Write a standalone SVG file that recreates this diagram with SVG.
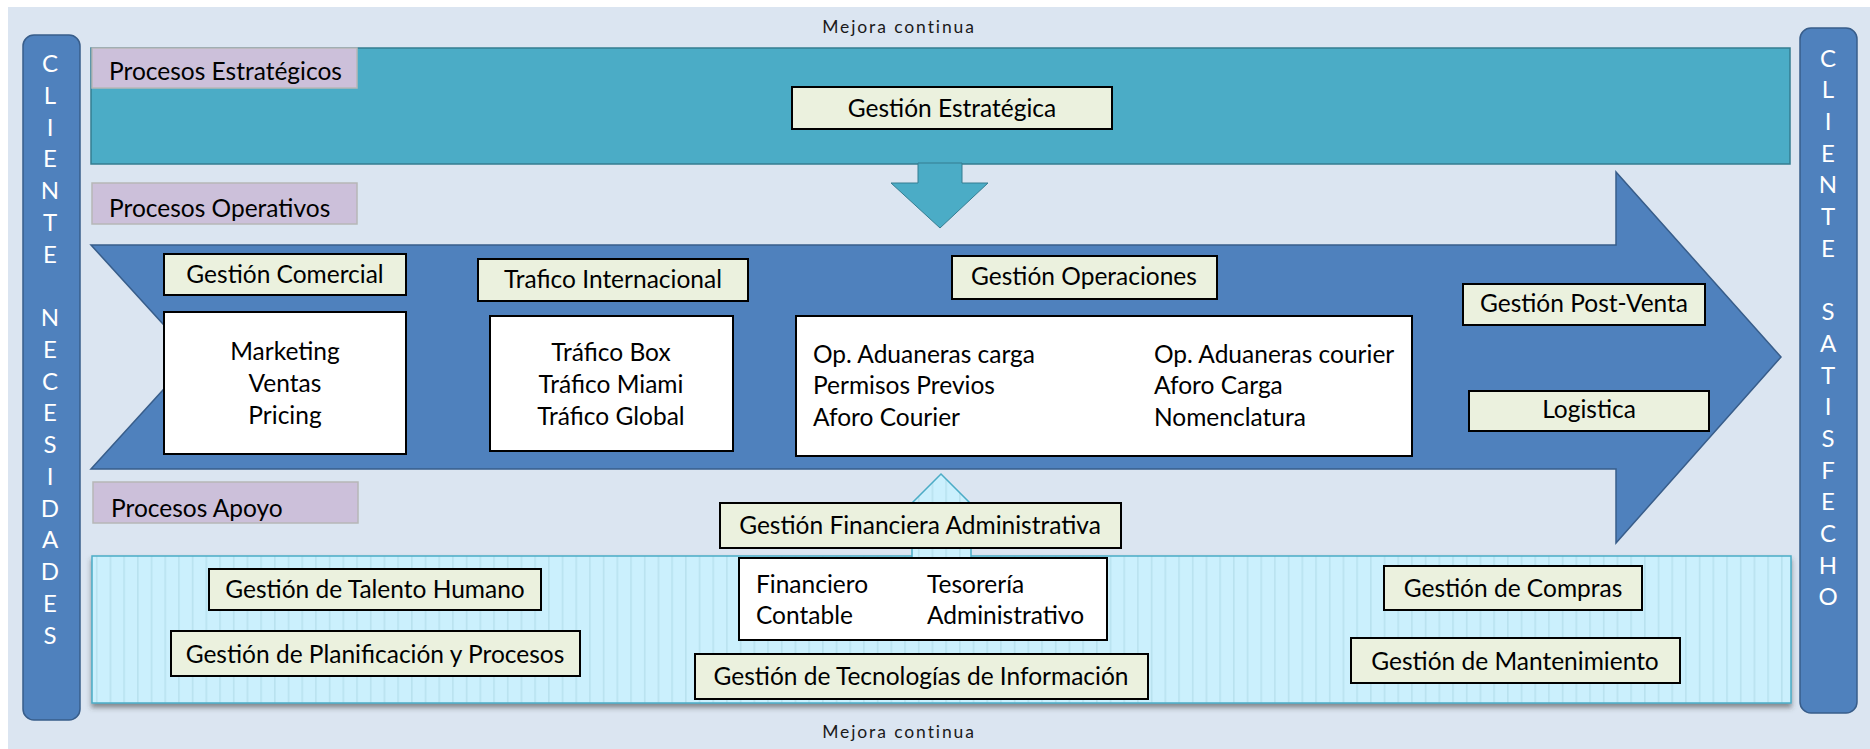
<svg xmlns="http://www.w3.org/2000/svg" width="1870" height="749" viewBox="0 0 1870 749">
<defs>
<pattern id="stripes" width="13.7" height="20" patternUnits="userSpaceOnUse">
<rect width="13.7" height="20" fill="#cbf0fd"/>
<rect x="0" width="1.6" height="20" fill="#b9e2ef"/>
</pattern>
<filter id="shadow" x="-5%" y="-20%" width="110%" height="150%">
<feDropShadow dx="0" dy="4" stdDeviation="2.5" flood-color="#404040" flood-opacity="0.55"/>
</filter>
<style>
text{font-family:Lato,"Liberation Sans",sans-serif;font-size:24.5px;fill:#000}
.side{fill:#4f81bd;stroke:#385d8a;stroke-width:1.5}
.sidetxt{fill:#fff;text-anchor:middle;font-size:24px}
.lbl{fill:#ccc0da;stroke:#b7b7b7;stroke-width:1.5}
.gbox{fill:#ebf1de;stroke:#000;stroke-width:2}
.wbox{fill:#fff;stroke:#000;stroke-width:2}
.c{text-anchor:middle}
.mej{font-size:17.5px;letter-spacing:1.9px;fill:#1a1a1a;text-anchor:middle}
</style>
</defs>
<rect x="8" y="7" width="1862" height="742" fill="#dbe5f1"/>
<text class="mej" x="899" y="33">Mejora continua</text>
<text class="mej" x="899" y="738">Mejora continua</text>

<g id="cliente-necesidades">
<rect class="side" x="23" y="35" width="57" height="685" rx="11"/>
<text class="sidetxt" x="50" y="72"><tspan x="50">C</tspan><tspan x="50" dy="31.75">L</tspan><tspan x="50" dy="31.75">I</tspan><tspan x="50" dy="31.75">E</tspan><tspan x="50" dy="31.75">N</tspan><tspan x="50" dy="31.75">T</tspan><tspan x="50" dy="31.75">E</tspan><tspan x="50" dy="63.5">N</tspan><tspan x="50" dy="31.75">E</tspan><tspan x="50" dy="31.75">C</tspan><tspan x="50" dy="31.75">E</tspan><tspan x="50" dy="31.75">S</tspan><tspan x="50" dy="31.75">I</tspan><tspan x="50" dy="31.75">D</tspan><tspan x="50" dy="31.75">A</tspan><tspan x="50" dy="31.75">D</tspan><tspan x="50" dy="31.75">E</tspan><tspan x="50" dy="31.75">S</tspan></text>
</g>

<g id="cliente-satisfecho">
<rect class="side" x="1800" y="28" width="57" height="685" rx="11"/>
<text class="sidetxt" x="1828" y="66.5"><tspan x="1828">C</tspan><tspan x="1828" dy="31.7">L</tspan><tspan x="1828" dy="31.7">I</tspan><tspan x="1828" dy="31.7">E</tspan><tspan x="1828" dy="31.7">N</tspan><tspan x="1828" dy="31.7">T</tspan><tspan x="1828" dy="31.7">E</tspan><tspan x="1828" dy="63.4">S</tspan><tspan x="1828" dy="31.7">A</tspan><tspan x="1828" dy="31.7">T</tspan><tspan x="1828" dy="31.7">I</tspan><tspan x="1828" dy="31.7">S</tspan><tspan x="1828" dy="31.7">F</tspan><tspan x="1828" dy="31.7">E</tspan><tspan x="1828" dy="31.7">C</tspan><tspan x="1828" dy="31.7">H</tspan><tspan x="1828" dy="31.7">O</tspan></text>
</g>

<g id="procesos-estrategicos">
<rect x="91" y="48" width="1699" height="116" fill="#4bacc6" stroke="#357d91" stroke-width="1.5"/>
<rect class="lbl" x="92" y="48" width="265" height="40"/>
<text x="109" y="80">Procesos Estratégicos</text>
</g>

<g id="connectors">
<polygon points="918,163 962,163 962,183 988,183 940,228 891,183 918,183" fill="#4bacc6" stroke="#357d91" stroke-width="1"/>
<polygon points="91,245 1616,245 1616,172 1781,357 1616,543 1616,469 91,469 193,357" fill="#4f81bd" stroke="#385d8a" stroke-width="1.5"/>
</g>

<g id="gestion-estrategica">
<rect class="gbox" x="792" y="87" width="320" height="42"/>
<text class="c" x="952" y="117">Gestión Estratégica</text>
</g>

<g id="procesos-operativos">
<rect class="lbl" x="92" y="183" width="265" height="41"/>
<text x="109" y="217">Procesos Operativos</text>
</g>

<g id="gestion-comercial">
<rect class="gbox" x="164" y="254" width="242" height="41"/>
<text class="c" x="285" y="283">Gestión Comercial</text>
<rect class="wbox" x="164" y="312" width="242" height="142"/>
<text class="c" x="285" y="360">Marketing</text>
<text class="c" x="285" y="392">Ventas</text>
<text class="c" x="285" y="424">Pricing</text>
</g>

<g id="trafico-internacional">
<rect class="gbox" x="478" y="259" width="270" height="42"/>
<text class="c" x="613" y="288">Trafico Internacional</text>
<rect class="wbox" x="490" y="316" width="243" height="135"/>
<text class="c" x="611" y="361">Tráfico Box</text>
<text class="c" x="611" y="393">Tráfico Miami</text>
<text class="c" x="611" y="425">Tráfico Global</text>
</g>

<g id="gestion-operaciones">
<rect class="gbox" x="952" y="256" width="265" height="43"/>
<text class="c" x="1084" y="285">Gestión Operaciones</text>
<rect class="wbox" x="796" y="316" width="616" height="140"/>
<text x="813" y="363">Op. Aduaneras carga</text>
<text x="813" y="394">Permisos Previos</text>
<text x="813" y="426">Aforo Courier</text>
<text x="1154" y="363">Op. Aduaneras courier</text>
<text x="1154" y="394">Aforo Carga</text>
<text x="1154" y="426">Nomenclatura</text>
</g>

<g id="gestion-post-venta">
<rect class="gbox" x="1463" y="284" width="242" height="41"/>
<text class="c" x="1584" y="312">Gestión Post-Venta</text>
</g>

<g id="logistica">
<rect class="gbox" x="1469" y="391" width="240" height="40"/>
<text class="c" x="1589" y="418">Logistica</text>
</g>

<g id="procesos-apoyo">
<rect class="lbl" x="93" y="482" width="265" height="41"/>
<text x="111" y="517">Procesos Apoyo</text>
<rect x="92" y="556" width="1699" height="147" fill="url(#stripes)" stroke="#4bacc6" stroke-width="1.5" filter="url(#shadow)"/>
</g>

<g id="gestion-financiera">
<polygon points="941,474 987,520 971,520 971,558 912,558 912,520 895,520" fill="url(#stripes)" stroke="#4bacc6" stroke-width="1.5"/>
<rect x="913" y="553" width="57" height="6" fill="url(#stripes)"/>
<rect class="gbox" x="720" y="503" width="401" height="45"/>
<text class="c" x="920" y="534">Gestión Financiera Administrativa</text>
<rect class="wbox" x="739" y="558" width="368" height="82"/>
<text x="756" y="593">Financiero</text>
<text x="756" y="624">Contable</text>
<text x="927" y="593">Tesorería</text>
<text x="927" y="624">Administrativo</text>
</g>

<g id="gestion-tecnologias">
<rect class="gbox" x="695" y="654" width="453" height="45"/>
<text class="c" x="921" y="685">Gestión de Tecnologías de Información</text>
</g>

<g id="gestion-talento">
<rect class="gbox" x="209" y="569" width="332" height="41"/>
<text class="c" x="375" y="598">Gestión de Talento Humano</text>
</g>

<g id="gestion-planificacion">
<rect class="gbox" x="171" y="631" width="409" height="45"/>
<text class="c" x="375" y="663">Gestión de Planificación y Procesos</text>
</g>

<g id="gestion-compras">
<rect class="gbox" x="1384" y="566" width="258" height="44"/>
<text class="c" x="1513" y="597">Gestión de Compras</text>
</g>

<g id="gestion-mantenimiento">
<rect class="gbox" x="1351" y="638" width="329" height="45"/>
<text class="c" x="1515" y="670">Gestión de Mantenimiento</text>
</g>
</svg>
